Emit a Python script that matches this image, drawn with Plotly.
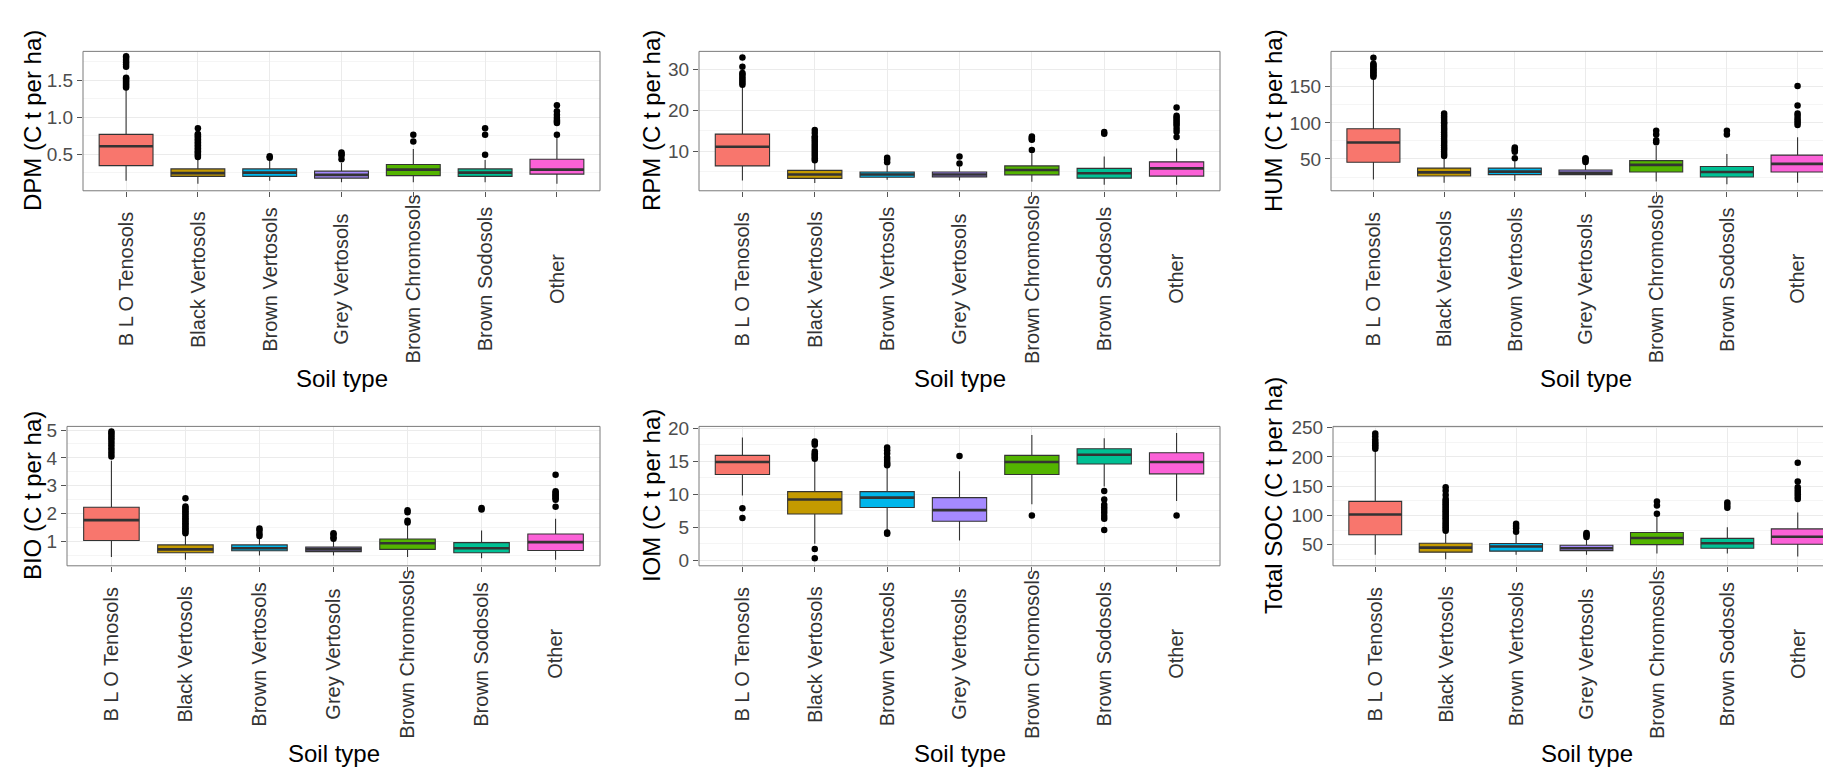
import plotly.graph_objects as go

# ---------------- data ----------------
categories = ["B L O Tenosols", "Black Vertosols", "Brown Vertosols", "Grey Vertosols",
              "Brown Chromosols", "Brown Sodosols", "Other"]
colors = ["#F8766D", "#C49A00", "#00B6EB", "#A58AFF", "#53B400", "#00C094", "#FB61D7"]

# DPM
dpm_q1 = [0.344, 0.20, 0.20, 0.176, 0.21, 0.20, 0.23]
dpm_med = [0.607, 0.243, 0.25, 0.22, 0.29, 0.25, 0.29]
dpm_q3 = [0.767, 0.30, 0.30, 0.27, 0.36, 0.30, 0.43]
dpm_lo = [0.14, 0.10, 0.14, 0.12, 0.12, 0.12, 0.10]
dpm_hi = [1.38, 0.45, 0.44, 0.38, 0.57, 0.42, 0.75]
dpm_out = [
    [1.40, 1.42, 1.44, 1.46, 1.48, 1.50, 1.52, 1.53, 1.68, 1.71, 1.74, 1.77, 1.80, 1.82],
    [0.46, 0.48, 0.50, 0.52, 0.54, 0.56, 0.58, 0.60, 0.62, 0.64, 0.66, 0.68, 0.70, 0.72, 0.74, 0.76, 0.77, 0.85],
    [0.45, 0.47],
    [0.43, 0.48, 0.50, 0.52],
    [0.67, 0.76],
    [0.49, 0.76, 0.85],
    [0.76, 0.92, 0.94, 0.96, 0.99, 1.03, 1.08, 1.16],
]

# RPM
rpm_q1 = [6.4, 3.35, 3.6, 3.7, 4.2, 3.4, 3.9]
rpm_med = [11.1, 4.3, 4.3, 4.3, 5.4, 4.6, 5.8]
rpm_q3 = [14.2, 5.3, 4.9, 4.9, 6.4, 5.8, 7.4]
rpm_lo = [2.8, 2.2, 3.0, 2.8, 2.5, 1.8, 1.8]
rpm_hi = [25.7, 7.5, 6.5, 6.2, 9.5, 8.7, 10.7]
rpm_out = [
    [26.3, 26.8, 27.3, 27.8, 28.3, 28.8, 29.2, 30.7, 33.0],
    [7.8, 8.3, 8.8, 9.3, 9.8, 10.3, 10.8, 11.3, 11.8, 12.3, 12.8, 13.3, 13.6, 14.5, 15.2],
    [7.3, 8.0, 8.4],
    [7.0, 8.7],
    [10.3, 12.8, 13.0, 13.3, 13.6],
    [14.3, 14.7],
    [13.5, 14.8, 15.5, 16.3, 16.8, 17.3, 17.8, 18.3, 18.7, 20.7],
]

# HUM
hum_q1 = [45.5, 26.5, 28.3, 28.3, 31.9, 25.0, 31.9]
hum_med = [72.8, 31.5, 32.5, 31.0, 41.9, 31.9, 43.2]
hum_q3 = [91.8, 37.4, 37.4, 34.8, 47.8, 39.5, 55.4]
hum_lo = [21.5, 17, 20, 22, 19, 15, 17]
hum_hi = [162, 52, 47, 44, 68, 57, 80]
hum_out = [
    [164, 166, 168, 170, 172, 174, 176, 178, 180, 182, 190],
    [54, 57, 60, 63, 66, 69, 72, 75, 78, 81, 84, 87, 90, 93, 96, 99, 101, 104, 107, 110, 113],
    [51, 60, 62, 64, 66],
    [46, 48, 50, 51],
    [73, 76, 84, 89],
    [84, 89],
    [97, 100, 103, 106, 110, 113, 124, 151],
]

# BIO
bio_q1 = [1.04, 0.60, 0.67, 0.64, 0.72, 0.60, 0.68]
bio_med = [1.77, 0.72, 0.76, 0.72, 0.94, 0.76, 0.98]
bio_q3 = [2.23, 0.88, 0.88, 0.80, 1.09, 0.96, 1.27]
bio_lo = [0.45, 0.35, 0.50, 0.50, 0.45, 0.40, 0.35]
bio_hi = [3.9, 1.25, 1.15, 1.05, 1.6, 1.4, 1.82]
bio_out = [
    [4.05, 4.15, 4.25, 4.35, 4.45, 4.55, 4.65, 4.72, 4.80, 4.88, 4.95],
    [1.30, 1.36, 1.42, 1.48, 1.54, 1.60, 1.66, 1.72, 1.78, 1.84, 1.90, 1.96, 2.02, 2.08, 2.14, 2.20, 2.26, 2.55],
    [1.20, 1.28, 1.40, 1.47],
    [1.10, 1.15, 1.25, 1.30],
    [1.68, 1.75, 2.05, 2.12],
    [2.15, 2.20],
    [2.25, 2.50, 2.55, 2.60, 2.65, 2.70, 2.75, 2.80, 3.40],
]

# IOM
iom_q1 = [13.0, 7.0, 8.0, 5.9, 13.0, 14.6, 13.1]
iom_med = [14.9, 9.2, 9.5, 7.6, 14.9, 16.0, 14.9]
iom_q3 = [15.9, 10.4, 10.4, 9.5, 15.9, 16.9, 16.3]
iom_lo = [9.8, 2.5, 4.5, 3.0, 8.5, 11.2, 9.0]
iom_hi = [18.6, 15.0, 14.0, 13.5, 19.0, 18.5, 19.3]
iom_out = [
    [6.4, 7.9],
    [0.3, 1.7, 15.4, 15.6, 15.8, 16.0, 16.2, 16.5, 17.5, 17.8, 18.0],
    [4.0, 4.2, 14.4, 14.6, 14.8, 15.2, 15.6, 16.2, 16.7, 17.1],
    [15.8],
    [6.8],
    [4.6, 6.3, 6.7, 7.2, 7.6, 8.0, 8.4, 9.2, 10.5],
    [6.8],
]

# Total SOC
soc_q1 = [67, 37.3, 39, 40, 50.2, 44.1, 50.7]
soc_med = [101.7, 45, 47, 44, 61.4, 52.5, 63.6]
soc_q3 = [124, 52.4, 52, 49, 70.9, 60.9, 77]
soc_lo = [33, 25, 33, 33, 35, 35, 30]
soc_hi = [210, 72, 70, 60, 100, 80, 105]
soc_out = [
    [214, 217, 220, 223, 226, 230, 235, 240],
    [74, 77, 80, 83, 86, 89, 92, 95, 98, 101, 104, 107, 110, 113, 116, 119, 122, 125, 128, 135, 142, 148],
    [72, 78, 82, 86],
    [63, 66, 68, 70],
    [103, 117, 124],
    [113, 118, 122],
    [128, 132, 136, 140, 144, 148, 158, 190],
]

y_titles = ["DPM (C t per ha)", "RPM (C t per ha)", "HUM (C t per ha)",
            "BIO (C t per ha)", "IOM (C t per ha)", "Total SOC (C t per ha)"]
x_title = "Soil type"

# ---------------- layout (pixels) ----------------
W, H = 1831, 768
FONT = "Liberation Sans, Arial, sans-serif"

panels = [
    # left, right, top, bottom (px), y range, dtick, minor dtick, tickformat, y-title x px
    dict(l=75, r=592, t=35, b=177, yr=[0.005, 1.887], dt=0.5, mdt=0.25, fmt=".1f", tx=24),
    dict(l=691, r=1212, t=35, b=177, yr=[0.3, 34.5], dt=10, mdt=5, fmt="d", tx=643),
    dict(l=1323, r=1832, t=35, b=177, yr=[6, 199], dt=50, mdt=25, fmt="d", tx=1265),
    dict(l=59, r=592, t=417, b=559, yr=[0.13, 5.13], dt=1, mdt=0.5, fmt="d", tx=24),
    dict(l=691, r=1212, t=417, b=559, yr=[-0.85, 20.3], dt=5, mdt=2.5, fmt="d", tx=643),
    dict(l=1325, r=1832, t=417, b=559, yr=[14, 252], dt=50, mdt=25, fmt="d", tx=1265),
]

stats = [
    (dpm_q1, dpm_med, dpm_q3, dpm_lo, dpm_hi, dpm_out),
    (rpm_q1, rpm_med, rpm_q3, rpm_lo, rpm_hi, rpm_out),
    (hum_q1, hum_med, hum_q3, hum_lo, hum_hi, hum_out),
    (bio_q1, bio_med, bio_q3, bio_lo, bio_hi, bio_out),
    (iom_q1, iom_med, iom_q3, iom_lo, iom_hi, iom_out),
    (soc_q1, soc_med, soc_q3, soc_lo, soc_hi, soc_out),
]

fig = go.Figure()
layout = dict(
    width=W, height=H, margin=dict(l=0, r=0, t=0, b=0),
    paper_bgcolor="white", plot_bgcolor="white",
    boxmode="overlay", showlegend=False,
    font=dict(family=FONT, color="#333333"),
)
annotations = []
shapes = []

for k, (p, st) in enumerate(zip(panels, stats)):
    n = k + 1
    xa = "x" if n == 1 else f"x{n}"
    ya = "y" if n == 1 else f"y{n}"
    q1, med, q3, lo, hi, out = st

    for i, cat in enumerate(categories):
        fig.add_trace(go.Box(
            x=[cat], q1=[q1[i]], median=[med[i]], q3=[q3[i]],
            lowerfence=[lo[i]], upperfence=[hi[i]],
            fillcolor=colors[i], line=dict(color="#333333", width=1.1),
            whiskerwidth=0, width=0.75, boxpoints=False,
            xaxis=xa, yaxis=ya, hoverinfo="skip",
        ))
        # thick median line
        fig.add_trace(go.Box(
            x=[cat], q1=[med[i]], median=[med[i]], q3=[med[i]],
            lowerfence=[med[i]], upperfence=[med[i]],
            fillcolor="rgba(0,0,0,0)", line=dict(color="#333333", width=2.6),
            whiskerwidth=0, width=0.75, boxpoints=False,
            xaxis=xa, yaxis=ya, hoverinfo="skip",
        ))
        fig.add_trace(go.Scatter(
            x=[cat] * len(out[i]), y=out[i], mode="markers",
            marker=dict(color="black", size=6.5),
            xaxis=xa, yaxis=ya, hoverinfo="skip",
        ))

    x0, x1 = p["l"] / W, min(p["r"], W) / W
    y0, y1 = 1 - p["b"] / H, 1 - p["t"] / H
    xrange_hi = 6.6 if p["r"] <= W else -0.6 + 7.2 * (W - p["l"]) / (p["r"] - p["l"])
    layout["xaxis" if n == 1 else f"xaxis{n}"] = dict(
        domain=[x0, x1], anchor=ya, type="category",
        categoryorder="array", categoryarray=categories,
        range=[-0.6, xrange_hi], showticklabels=False,
        ticks="outside", ticklen=5, tickcolor="#555555", tickwidth=1,
        showgrid=True, gridcolor="#EBEBEB", gridwidth=1,
        showline=False, zeroline=False,
    )
    layout["yaxis" if n == 1 else f"yaxis{n}"] = dict(
        domain=[y0, y1], anchor=xa, range=p["yr"],
        tickmode="linear", tick0=0, dtick=p["dt"], tickformat=p["fmt"],
        ticks="outside", ticklen=5, tickcolor="#555555", tickwidth=1,
        tickfont=dict(family=FONT, size=19, color="#4D4D4D"),
        showgrid=True, gridcolor="#EBEBEB", gridwidth=1,
        minor=dict(tick0=0, dtick=p["mdt"], showgrid=True, gridcolor="#F5F5F5", gridwidth=0.7, ticks=""),
        zeroline=False, showline=False,
    )
    # panel border
    shapes.append(dict(
        type="rect", xref=f"{xa} domain", yref=f"{ya} domain",
        x0=0, x1=(p["r"] - p["l"]) / (min(p["r"], W) - p["l"]) + (0.01 if p["r"] > W else 0),
        y0=0, y1=1, line=dict(color="#7A7A7A", width=1), layer="above",
    ))
    # category labels (centred, vertical)
    for i, cat in enumerate(categories):
        annotations.append(dict(
            text=cat, x=i, xref=xa, y=1 - (p["b"] + 90) / H, yref="paper",
            textangle=-90, showarrow=False, xanchor="center", yanchor="middle",
            font=dict(family=FONT, size=20, color="#333333"),
        ))
    # x title
    annotations.append(dict(
        text=x_title, x=(p["l"] + p["r"]) / 2 / W, xref="paper",
        y=1 - (p["b"] + 191) / H, yref="paper", showarrow=False,
        xanchor="center", yanchor="middle",
        font=dict(family=FONT, size=24, color="black"),
    ))
    # y title
    annotations.append(dict(
        text=y_titles[k], x=p["tx"] / W, xref="paper",
        y=1 - (p["t"] + p["b"]) / 2 / H, yref="paper", showarrow=False,
        textangle=-90, xanchor="center", yanchor="middle",
        font=dict(family=FONT, size=24, color="black"),
    ))

layout["annotations"] = annotations
layout["shapes"] = shapes
fig.update_layout(**layout)
fig.write_html("out.html")
